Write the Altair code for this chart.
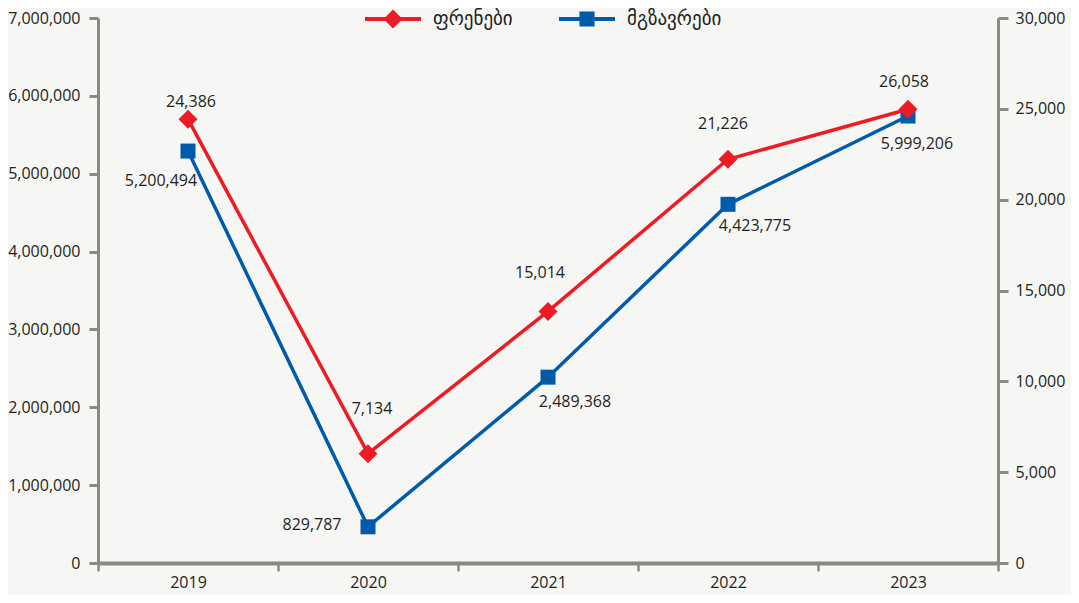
import altair as alt
import pandas as pd

# ---- data ----
years = ["2019", "2020", "2021", "2022", "2023"]
# flights (right axis) - plotted positions and printed labels
flights = [24430, 6020, 13850, 22225, 24975]
flights_labels = ["24,386", "7,134", "15,014", "21,226", "26,058"]
# passengers (left axis) - plotted positions and printed labels
passengers = [5291000, 465000, 2387000, 4607000, 5741000]
passengers_labels = ["5,200,494", "829,787", "2,489,368", "4,423,775", "5,999,206"]
series_names = ["ფრენები", "მგზავრები"]

left_ticks = [0, 1000000, 2000000, 3000000, 4000000, 5000000, 6000000, 7000000]
right_ticks = [0, 5000, 10000, 15000, 20000, 25000, 30000]

# ---- style ----
RED = "#ed1c24"
BLUE = "#005baa"
AXIS = "#8a8a82"
TEXT = "#231f20"
BG = "#f6f6f4"
FONT = "Open Sans"
GEO_FONT = "DejaVu Sans"

# label offsets (pixels, relative to the marker)
flight_offsets = [(3, -17), (4, -45), (-8, -38), (-5, -35), (-4, -27)]
pass_offsets = [(-27, 30), (-56, -2), (27, 25), (27, 22), (9, 28)]

df = pd.DataFrame({
    "year": years,
    "flights": flights,
    "flights_label": flights_labels,
    "passengers": passengers,
    "passengers_label": passengers_labels,
})

base = alt.Chart(df)

X = alt.X(
    "year:N",
    sort=years,
    scale=alt.Scale(type="band", paddingInner=0, paddingOuter=0),
    axis=alt.Axis(
        title=None, labelAngle=0, tickBand="extent", domainWidth=4,
        tickWidth=2.5, tickSize=8, labelPadding=3, grid=False,
    ),
)

Y_left = alt.Y(
    "passengers:Q",
    scale=alt.Scale(domain=[0, 7000000], nice=False, zero=True),
    axis=alt.Axis(
        title=None, orient="left", values=left_ticks,
        labelExpr="format(datum.value, ',')",
        domainWidth=3, tickWidth=3, tickSize=9, labelPadding=9, grid=False,
    ),
)

Y_right = alt.Y(
    "flights:Q",
    scale=alt.Scale(domain=[0, 30000], nice=False, zero=True),
    axis=alt.Axis(
        title=None, orient="right", values=right_ticks,
        labelExpr="format(datum.value, ',')",
        domainWidth=3, tickWidth=3, tickSize=10, labelPadding=7, grid=False,
    ),
)

# passengers group (left axis)
p_line = base.mark_line(color=BLUE, strokeWidth=3.5).encode(x=X, y=Y_left)
p_pts = base.mark_point(shape="square", filled=True, size=225, color=BLUE, opacity=1).encode(x=X, y=Y_left)
p_texts = []
for yr, (dx, dy) in zip(years, pass_offsets):
    p_texts.append(
        base.transform_filter(alt.datum.year == yr)
        .mark_text(font=FONT, fontSize=16, color=TEXT, dx=dx, dy=dy, align="center", baseline="middle")
        .encode(x=X, y=Y_left, text="passengers_label:N")
    )
left = alt.layer(p_line, p_pts, *p_texts)

# flights group (right axis)
f_line = base.mark_line(color=RED, strokeWidth=3.5).encode(x=X, y=Y_right)
f_pts = base.mark_point(shape="diamond", filled=True, size=361, color=RED, opacity=1).encode(x=X, y=Y_right)
f_texts = []
for yr, (dx, dy) in zip(years, flight_offsets):
    f_texts.append(
        base.transform_filter(alt.datum.year == yr)
        .mark_text(font=FONT, fontSize=16, color=TEXT, dx=dx, dy=dy, align="center", baseline="middle")
        .encode(x=X, y=Y_right, text="flights_label:N")
    )
right = alt.layer(f_line, f_pts, *f_texts)

# legend (line + marker symbols)
PATH_D = "M-1,-0.07L1,-0.07L1,0.07L-1,0.07Z M0,-0.34L0.34,0L0,0.34L-0.34,0Z"
PATH_S = "M-1,-0.07L1,-0.07L1,0.07L-1,0.07Z M-0.27,-0.27L0.27,-0.27L0.27,0.27L-0.27,0.27Z"
legend_def = alt.Legend(
    title=None, orient="none", legendX=267, legendY=-27, direction="horizontal",
    symbolSize=3136, symbolStrokeWidth=0, labelFont=GEO_FONT, labelFontSize=19,
    labelColor=TEXT, labelOffset=12, columnPadding=46, padding=0,
)
legend_df = pd.DataFrame({"series": series_names})
legend_layer = (
    alt.Chart(legend_df)
    .transform_filter("false")
    .mark_point(filled=True, opacity=1)
    .encode(
        color=alt.Color("series:N", scale=alt.Scale(domain=series_names, range=[RED, BLUE]), legend=legend_def),
        shape=alt.Shape("series:N", scale=alt.Scale(domain=series_names, range=[PATH_D, PATH_S]), legend=legend_def),
    )
)

chart = (
    alt.layer(left, right, legend_layer)
    .resolve_scale(y="independent")
    .properties(
        width=900, height=545, background=BG,
        padding={"left": 90, "top": 10, "right": 73, "bottom": 32},
        autosize=alt.AutoSizeParams(type="none"),
    )
    .configure_view(stroke=None)
    .configure_axis(
        domainColor=AXIS, tickColor=AXIS, labelColor=TEXT, labelFont=FONT,
        labelFontSize=16,
    )
)

chart.save("out.html", embed_options={"renderer": "svg", "actions": False})
